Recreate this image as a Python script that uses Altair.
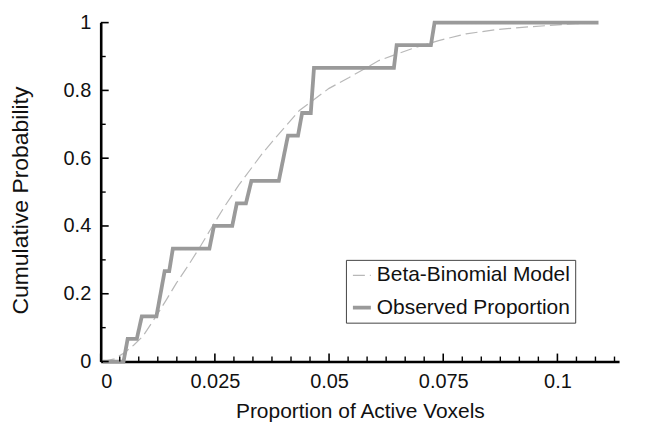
import altair as alt
import pandas as pd

# ---- data ----
series_names = ["Beta-Binomial Model", "Observed Proportion"]

obs_x = [0.0005, 0.0050, 0.0059, 0.0079, 0.0090, 0.0122, 0.0140, 0.0150, 0.0158,
         0.0238, 0.0248, 0.0288, 0.0298, 0.0318, 0.0330, 0.0390, 0.0410, 0.0432,
         0.0441, 0.0460, 0.0467, 0.0642, 0.0648, 0.0723, 0.0731, 0.1090]
obs_y = [0.0, 0.0, 0.0667, 0.0667, 0.1333, 0.1333, 0.2667, 0.2667, 0.3333,
         0.3333, 0.4, 0.4, 0.4667, 0.4667, 0.5333, 0.5333, 0.6667, 0.6667,
         0.7333, 0.7333, 0.8667, 0.8667, 0.9333, 0.9333, 1.0, 1.0]

model_x = [0.0005, 0.003, 0.0052, 0.0072, 0.0092, 0.0122, 0.0145, 0.0166, 0.019,
           0.0216, 0.0245, 0.027, 0.0303, 0.0354, 0.0384, 0.0435, 0.050, 0.0544,
           0.0609, 0.0681, 0.074, 0.080, 0.087, 0.0943, 0.104, 0.109]
model_y = [0.0, 0.008, 0.026, 0.048, 0.074, 0.135, 0.185, 0.232, 0.28,
           0.335, 0.40, 0.455, 0.522, 0.614, 0.662, 0.741, 0.806, 0.838,
           0.888, 0.923, 0.947, 0.967, 0.980, 0.988, 0.997, 0.999]

x_major = [0, 0.025, 0.05, 0.075, 0.1]
x_minor = [0.00417, 0.00833, 0.0125, 0.01667, 0.02083,
           0.02917, 0.03333, 0.0375, 0.04167, 0.04583,
           0.05417, 0.05833, 0.0625, 0.06667, 0.07083,
           0.07917, 0.08333, 0.0875, 0.09167, 0.09583,
           0.10417, 0.10833, 0.1125]
y_major = [0, 0.2, 0.4, 0.6, 0.8, 1.0]
y_minor = [0.1, 0.3, 0.5, 0.7, 0.9]

W, H = 520, 340
FONT = "Liberation Sans"

lines = pd.DataFrame({
    "x": model_x + obs_x,
    "y": model_y + obs_y,
    "series": [series_names[0]] * len(model_x) + [series_names[1]] * len(obs_x),
    "order": list(range(len(model_x))) + list(range(len(obs_x))),
})

xscale = alt.Scale(domain=[0, 0.1135], nice=False, zero=False)
yscale = alt.Scale(domain=[0, 1], nice=False)

line_layer = alt.Chart(lines).mark_line(clip=False).encode(
    x=alt.X("x:Q", scale=xscale,
            axis=alt.Axis(values=x_major, format="~g", title="Proportion of Active Voxels",
                          labelPadding=10, titleY=56, titleBaseline="alphabetic")),
    y=alt.Y("y:Q", scale=yscale,
            axis=alt.Axis(values=y_major, format="~g", title="Cumulative Probability",
                          labelPadding=10, titleX=-73, titleY=178,
                          titleBaseline="alphabetic")),
    color=alt.Color("series:N", title=None,
                    scale=alt.Scale(domain=series_names, range=["#b8b8b8", "#9a9a9a"]),
                    legend=alt.Legend(orient="none", legendX=246, legendY=238)),
    strokeDash=alt.StrokeDash("series:N", title=None,
                              scale=alt.Scale(domain=series_names, range=[[12, 5], [1, 0]])),
    strokeWidth=alt.StrokeWidth("series:N", title=None,
                                scale=alt.Scale(type="ordinal", domain=series_names, range=[1.2, 3.8])),
    order="order:Q",
)

xmaj = alt.Chart(pd.DataFrame({"x": x_major})).mark_rule(color="black", strokeWidth=1.6).encode(
    x="x:Q", y=alt.value(H), y2=alt.value(H - 8))
xmin = alt.Chart(pd.DataFrame({"x": x_minor})).mark_rule(color="black", strokeWidth=1.4).encode(
    x="x:Q", y=alt.value(H), y2=alt.value(H - 5))
ymaj = alt.Chart(pd.DataFrame({"y": y_major})).mark_rule(color="black", strokeWidth=1.6).encode(
    y="y:Q", x=alt.value(0), x2=alt.value(8))
ymin = alt.Chart(pd.DataFrame({"y": y_minor})).mark_rule(color="black", strokeWidth=1.4).encode(
    y="y:Q", x=alt.value(0), x2=alt.value(5))

chart = alt.layer(line_layer, xmaj, xmin, ymaj, ymin).properties(
    width=W, height=H,
    autosize="none",
    padding={"left": 93, "top": 14, "right": 20, "bottom": 64},
).configure_view(strokeWidth=0).configure_axis(
    grid=False, ticks=False,
    domainColor="black", domainWidth=2.6,
    labelFont=FONT, labelFontSize=20, labelColor="#111",
    titleFont=FONT, titleFontWeight="normal", titleColor="#111",
).configure_axisX(titleFontSize=21).configure_axisY(titleFontSize=23).configure_legend(
    symbolType="stroke", symbolSize=324,
    labelFont=FONT, labelFontSize=21, labelColor="#111", labelLimit=400,
    strokeColor="#444", strokeWidth=1, fillColor="white",
    padding=5, rowPadding=11, labelOffset=4,
)

chart.save("out.html", embed_options={"renderer": "svg", "actions": False})
